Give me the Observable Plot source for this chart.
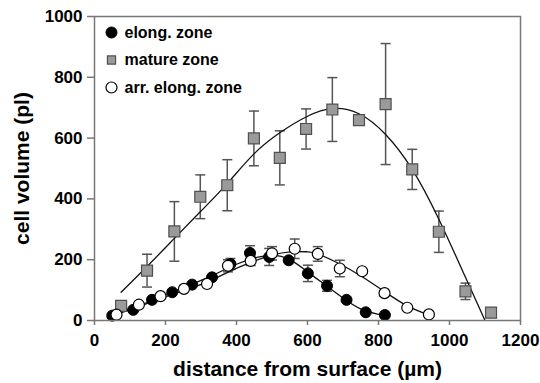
<!DOCTYPE html>
<html>
<head>
<meta charset="utf-8">
<script src="https://cdn.jsdelivr.net/npm/d3@7"></script>
<script src="https://cdn.jsdelivr.net/npm/@observablehq/plot@0.6"></script>
<style>
  html, body { margin: 0; padding: 0; background: #fff; }
  #chart svg [aria-label*="axis"] line, #chart svg [aria-label*="axis"] path { stroke: #777; stroke-width: 1.5; }
</style>
</head>
<body>
<div id="chart"></div>
<script>
// Tick labels
const xTicks = [0, 200, 400, 600, 800, 1000, 1200];
const yTicks = [0, 200, 400, 600, 800, 1000];

// mature zone (squares)
const matureX   = [75, 148, 225, 298, 374, 449, 522, 596, 670, 745, 820, 895, 970, 1045, 1117];
const matureY   = [48, 164, 293, 407, 445, 599, 535, 630, 694, 659, 712, 497, 292, 96, 26];
const matureErr = [0, 54, 98, 72, 84, 90, 89, 66, 105, 0, 199, 66, 68, 27, 0];

// elong. zone (filled circles)
const elongX   = [50, 109, 162, 219, 275, 331, 383, 438, 492, 547, 601, 655, 710, 764, 818];
const elongY   = [16, 35, 68, 93, 118, 142, 186, 222, 209, 198, 155, 114, 68, 27, 18];
const elongErr = [0, 0, 0, 0, 0, 0, 18, 24, 28, 0, 27, 18, 0, 0, 0];

// arr. elong. zone (open circles)
const arrX   = [62, 125, 186, 252, 317, 376, 440, 500, 564, 629, 691, 754, 817, 881, 942];
const arrY   = [19, 52, 80, 104, 120, 180, 196, 221, 236, 219, 171, 162, 90, 42, 20];
const arrErr = [0, 0, 0, 0, 0, 20, 15, 22, 32, 24, 27, 0, 0, 0, 0];

// fitted curves
const matureFitX = [75, 150, 225, 300, 375, 450, 525, 600, 670, 745, 820, 895, 970, 1045, 1100];
const matureFitY = [93, 180, 270, 360, 452, 549, 620, 672, 697, 680, 612, 497, 333, 142, 0];
const elongFitX = [50, 100, 150, 200, 250, 300, 350, 400, 450, 500, 550, 600, 650, 700, 750, 800, 820];
const elongFitY = [18, 38, 60, 84, 108, 132, 158, 185, 205, 214, 200, 160, 117, 74, 38, 20, 18];
const arrFitX = [62, 125, 186, 250, 317, 378, 442, 500, 552, 600, 629, 691, 754, 817, 881, 942];
const arrFitY = [20, 46, 72, 98, 126, 160, 192, 215, 226, 226, 219, 186, 144, 95, 48, 18];

const legendLabels = ["elong. zone", "mature zone", "arr. elong. zone"];

const toRows = (xs, ys, es) => xs.map((x, i) => ({x, y: ys[i], e: es ? es[i] : 0}));
const mature = toRows(matureX, matureY, matureErr);
const elong = toRows(elongX, elongY, elongErr);
const arr = toRows(arrX, arrY, arrErr);
const matureFit = toRows(matureFitX, matureFitY);
const elongFit = toRows(elongFitX, elongFitY);
const arrFit = toRows(arrFitX, arrFitY);

const capSymbol = {
  draw(context, size) {
    const r = Math.sqrt(size / Math.PI);
    context.moveTo(-r, 0);
    context.lineTo(r, 0);
  }
};

const errColor = "#555";
function errorMarks(rows) {
  const withErr = rows.filter(d => d.e > 0);
  return [
    Plot.ruleX(withErr, {x: "x", y1: d => d.y - d.e, y2: d => d.y + d.e, stroke: errColor, strokeWidth: 1.5}),
    Plot.dot(withErr, {x: "x", y: d => d.y - d.e, symbol: capSymbol, r: 5, stroke: errColor, strokeWidth: 1.5}),
    Plot.dot(withErr, {x: "x", y: d => d.y + d.e, symbol: capSymbol, r: 5, stroke: errColor, strokeWidth: 1.5})
  ];
}

const styles = [
  {symbol: "circle", r: 5.5, fill: "#000", stroke: "#000", strokeWidth: 1},
  {symbol: "square", r: 6.2, fill: "#9a9a9a", stroke: "#505050", strokeWidth: 1.2},
  {symbol: "circle", r: 5.5, fill: "#fff", stroke: "#000", strokeWidth: 1.2}
];

const legendMarks = legendLabels.flatMap((label, i) => [
  Plot.dot([label], {frameAnchor: "top-left", dx: 17, dy: 16 + 27.5 * i, ...styles[i], r: i === 1 ? 4.6 : 5.5}),
  Plot.text([label], {text: d => d, frameAnchor: "top-left", dx: 30, dy: 16 + 27.5 * i, textAnchor: "start", lineAnchor: "middle", fontSize: 16, fontWeight: "bold", fill: "#000"})
]);

const chart = Plot.plot({
  width: 540,
  height: 383,
  marginLeft: 94,
  marginRight: 20,
  marginTop: 16,
  marginBottom: 63,
  style: {fontFamily: "'Liberation Sans', Arial, sans-serif", fontSize: "17px", fontWeight: "bold", color: "#000", background: "#fff"},
  x: {domain: [0, 1200], ticks: xTicks, tickSize: 5, tickPadding: 8, label: null, tickFormat: d => String(d)},
  y: {domain: [0, 1000], ticks: yTicks, tickSize: 7, tickPadding: 5, label: null, tickFormat: d => String(d)},
  marks: [
    ...errorMarks(mature),
    ...errorMarks(elong),
    ...errorMarks(arr),
    Plot.line(matureFit, {x: "x", y: "y", curve: "natural", stroke: "#111", strokeWidth: 1.3}),
    Plot.line(elongFit, {x: "x", y: "y", curve: "natural", stroke: "#111", strokeWidth: 1.3}),
    Plot.line(arrFit, {x: "x", y: "y", curve: "natural", stroke: "#111", strokeWidth: 1.3}),
    Plot.dot(mature, {x: "x", y: "y", ...styles[1]}),
    Plot.dot(elong, {x: "x", y: "y", ...styles[0]}),
    Plot.dot(arr, {x: "x", y: "y", ...styles[2]}),
    Plot.frame({stroke: "#777", strokeWidth: 1.5}),
    ...legendMarks,
    Plot.text(["distance from surface (µm)"], {text: d => d, frameAnchor: "bottom", dy: 49, textAnchor: "middle", lineAnchor: "middle", fontSize: 21, fontWeight: "bold", fill: "#000"}),
    Plot.text(["cell volume (pl)"], {text: d => d, frameAnchor: "left", dx: -72, rotate: -90, textAnchor: "middle", lineAnchor: "middle", fontSize: 21, fontWeight: "bold", fill: "#000"})
  ]
});
document.getElementById("chart").appendChild(chart);
</script>
</body>
</html>
